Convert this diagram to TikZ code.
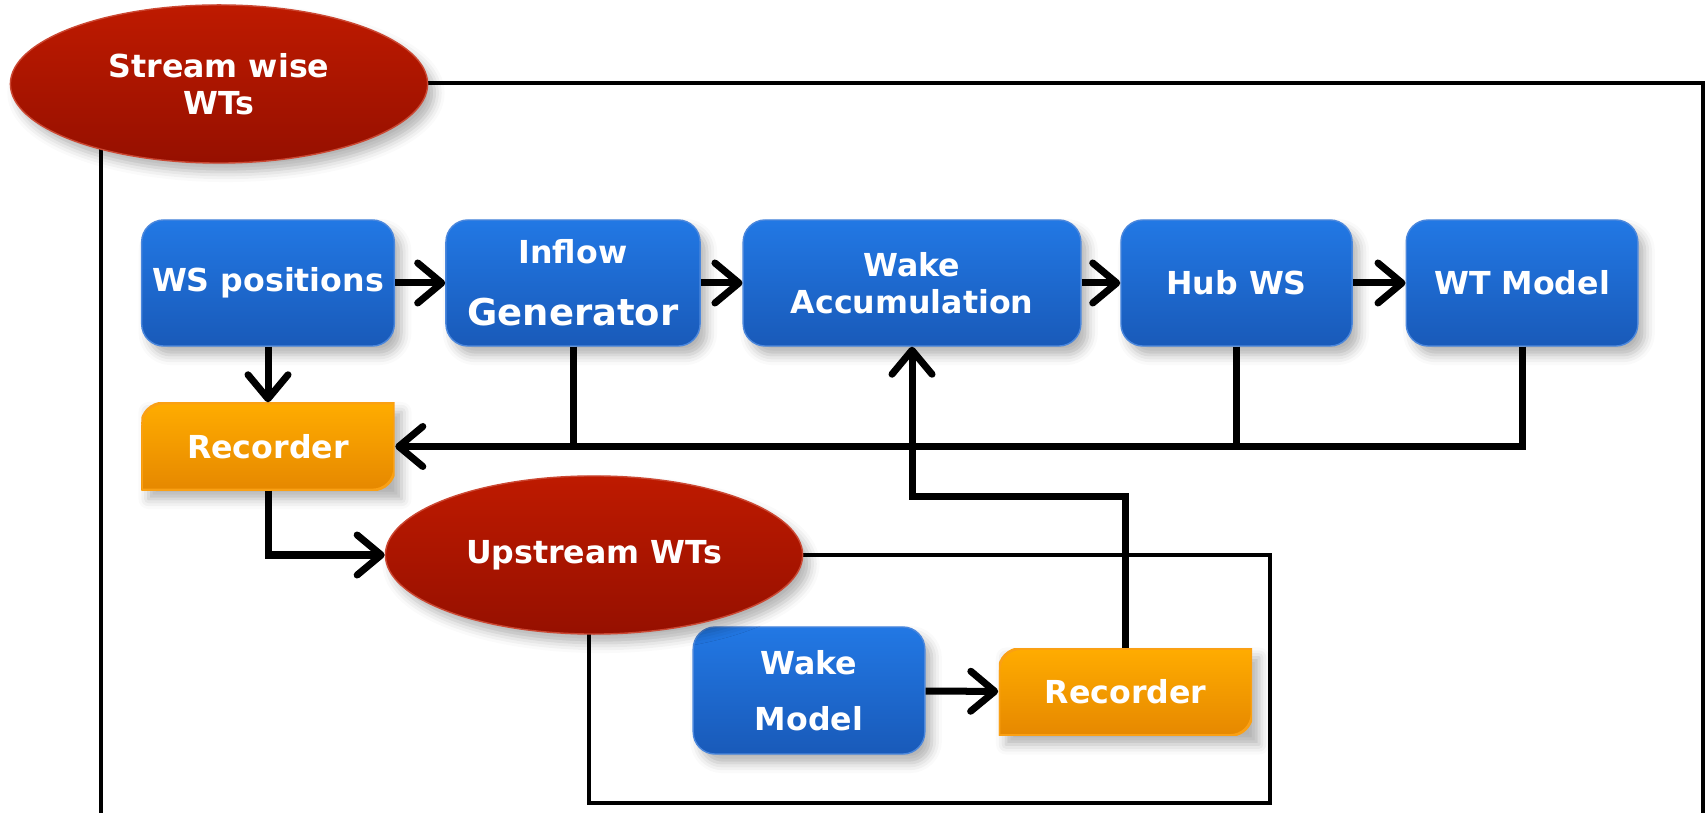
\documentclass[tikz,border=0pt]{standalone}
\usepackage{fontspec}
\setmainfont{DejaVu Sans}
\usetikzlibrary{arrows.meta,shapes.geometric,shadows.blur}

\definecolor{boxtop}{RGB}{34,120,228}
\definecolor{boxbot}{RGB}{25,90,185}
\definecolor{boxline}{RGB}{75,135,220}
\definecolor{redtop}{RGB}{190,26,0}
\definecolor{redbot}{RGB}{150,16,0}
\definecolor{rectop}{RGB}{255,172,0}
\definecolor{recbot}{RGB}{230,136,0}
\definecolor{recline}{RGB}{250,160,20}

\tikzset{
  txt/.style={text=white, font=\bfseries\fontsize{9}{10.5}\selectfont, align=center, inner sep=0pt},
  soft/.style={blur shadow={shadow xshift=0.7mm, shadow yshift=-0.9mm, shadow blur radius=1mm, shadow opacity=30}},
  blockbox/.style={txt, soft, rounded corners=2.2mm, top color=boxtop, bottom color=boxbot,
    draw=boxline, line width=0.4pt, minimum height=1.26cm},
  %% recorder: round corners top left and bottom right only
  recbox/.style={txt, soft, minimum width=2.53cm, minimum height=0.87cm,
    path picture={
      \shade[top color=rectop, bottom color=recbot, draw=recline, line width=0.8pt]
        (path picture bounding box.south west)
        -- ([yshift=-2.2mm]path picture bounding box.north west)
        arc[start angle=180, end angle=90, radius=2.2mm]
        -- (path picture bounding box.north east)
        -- ([yshift=2.2mm]path picture bounding box.south east)
        arc[start angle=0, end angle=-90, radius=2.2mm] -- cycle;
    }},
  wtell/.style={txt, soft, ellipse, top color=redtop, bottom color=redbot, draw=redtop!80,
    line width=0.4pt, minimum width=4.17cm, minimum height=1.58cm},
  flow/.style={line width=0.7mm, -{Straight Barb[length=2.4mm, width=4mm, round]}},
  link/.style={line width=0.7mm},
  frame/.style={line width=0.45mm}
}

\begin{document}
\begin{tikzpicture}[x=0.01cm, y=0.01cm]
  \useasboundingbox (0,0) rectangle (1707,-813);

  %% --- frames ---
  \draw[frame] (101,-813) |- (1703,-83) -- (1703,-813);
  \draw[frame] (589,-555) rectangle (1270,-803);

  %% --- top chain ---
  \node[blockbox, minimum width=2.525cm] (wsPos) at (268,-283) {WS positions};
  \node[blockbox, minimum width=2.54cm] (inflow) at (573,-283)
    {Inflow\\[7pt]{\fontsize{10.5}{10.5}\selectfont Generator}};
  \node[blockbox, minimum width=3.375cm] (wakeAcc) at (912,-283) {Wake\\Accumulation};
  \node[blockbox, minimum width=2.31cm] (hubWS) at (1236.5,-283) {Hub WS};
  \node[blockbox, minimum width=2.315cm] (wtModel) at (1522,-283) {WT Model};

  %% --- recorders and wake model ---
  \node[recbox] (rec1) at (268,-446.5) {Recorder};
  \node[blockbox, minimum width=2.315cm, minimum height=1.27cm] (wakeModel) at (809,-690.5)
    {Wake\\[5.5pt]Model};
  \node[recbox] (recUp) at (1125.5,-692) {Recorder};

  %% --- ellipses ---
  \node[wtell] (streamWT) at (219,-84) {Stream wise\\WTs};
  \node[wtell] (upWT) at (594,-555) {Upstream WTs};

  %% --- connectors ---
  \draw[flow] (wsPos) -- (rec1);
  \draw[flow] (wsPos) -- (inflow);
  \draw[flow] (inflow) -- (wakeAcc);
  \draw[flow] (wakeAcc) -- (hubWS);
  \draw[flow] (hubWS) -- (wtModel);
  \draw[flow] (wtModel.south) |- (rec1.east);
  \draw[link] (hubWS.south) -- (hubWS.south |- rec1.east);
  \draw[link] (inflow.south) -- (inflow.south |- rec1.east);
  \draw[flow] (rec1.south) |- (upWT.west);
  \draw[flow] (wakeModel) -- (recUp);
  \draw[flow] (recUp.north) |- ([yshift=-1.5cm]wakeAcc.south) -- (wakeAcc.south);
\end{tikzpicture}
\end{document}
